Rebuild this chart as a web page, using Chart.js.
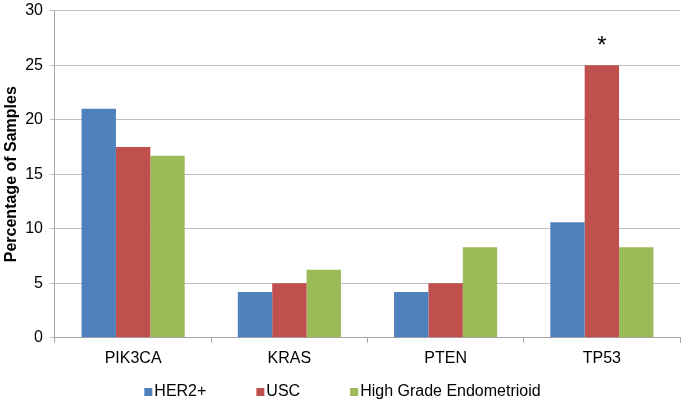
<!DOCTYPE html>
<html>
<head>
<meta charset="utf-8">
<script src="https://cdn.jsdelivr.net/npm/chart.js@4/dist/chart.umd.min.js"></script>
<style>
  html, body { margin: 0; padding: 0; background: #fff; }
  #wrap { width: 685px; height: 404px; }
</style>
</head>
<body>
<div id="wrap"><canvas id="myChart"></canvas></div>
<script>
const genes = ['PIK3CA', 'KRAS', 'PTEN', 'TP53'];
const her2Values = [21, 4.2, 4.2, 10.6];
const uscValues = [17.5, 5, 5, 25];
const endoValues = [16.7, 6.25, 8.3, 8.3];
const yTicks = [0, 5, 10, 15, 20, 25, 30];

const FONT = '"Liberation Sans", Arial, sans-serif';

// asterisk over the TP53 / USC bar
const starPlugin = {
    id: 'star',
    afterDatasetsDraw(chart) {
        const bar = chart.getDatasetMeta(1).data[3];
        const ctx = chart.ctx;
        ctx.save();
        ctx.fillStyle = '#000';
        ctx.font = '24px ' + FONT;
        ctx.textAlign = 'center';
        ctx.textBaseline = 'alphabetic';
        ctx.fillText('*', bar.x, bar.y - 12);
        ctx.restore();
    }
};

// Excel-style legend row: small square, label right next to it
const legendPlugin = {
    id: 'excelLegend',
    afterDraw(chart) {
        const ctx = chart.ctx;
        const box = 8, textGap = 2, itemGap = 50, y = 392;
        ctx.save();
        ctx.font = '16px ' + FONT;
        const items = chart.data.datasets.map(ds => ({
            label: ds.label,
            color: ds.backgroundColor,
            w: box + textGap + ctx.measureText(ds.label).width
        }));
        const total = items.reduce((s, it) => s + it.w, 0) + itemGap * (items.length - 1);
        let x = (chart.width - total) / 2;
        ctx.textBaseline = 'middle';
        ctx.textAlign = 'left';
        items.forEach(it => {
            ctx.fillStyle = it.color;
            ctx.fillRect(x, y - box / 2, box, box);
            ctx.fillStyle = '#000';
            ctx.fillText(it.label, x + box + textGap, y);
            x += it.w + itemGap;
        });
        ctx.restore();
    }
};

new Chart(document.getElementById('myChart'), {
    type: 'bar',
    data: {
        labels: genes,
        datasets: [
            { label: 'HER2+', data: her2Values, backgroundColor: '#4F81BD' },
            { label: 'USC', data: uscValues, backgroundColor: '#C0504D' },
            { label: 'High Grade Endometrioid', data: endoValues, backgroundColor: '#9BBB59' }
        ]
    },
    options: {
        responsive: true,
        maintainAspectRatio: false,
        animation: false,
        layout: { padding: { top: 0, right: 5, left: 0, bottom: 30 } },
        datasets: { bar: { categoryPercentage: 0.66, barPercentage: 1 } },
        plugins: {
            legend: { display: false },
            tooltip: { enabled: false }
        },
        scales: {
            x: {
                grid: { offset: true, drawOnChartArea: false, color: '#A6A6A6', tickLength: 5 },
                border: { color: '#A6A6A6' },
                ticks: { color: '#000', padding: 6, font: { family: FONT, size: 16 } }
            },
            y: {
                min: 0, max: 30,
                afterBuildTicks(axis) { axis.ticks = yTicks.map(v => ({ value: v })); },
                grid: { color: '#BFBFBF', tickLength: 5 },
                border: { color: '#A6A6A6' },
                ticks: { color: '#000', padding: 7, font: { family: FONT, size: 16, lineHeight: 0.45 } },
                title: {
                    display: true, text: 'Percentage of Samples', color: '#000',
                    padding: { top: 2, bottom: -3 },
                    font: { family: FONT, size: 16, weight: 'bold' }
                }
            }
        }
    },
    plugins: [starPlugin, legendPlugin]
});
</script>
</body>
</html>
